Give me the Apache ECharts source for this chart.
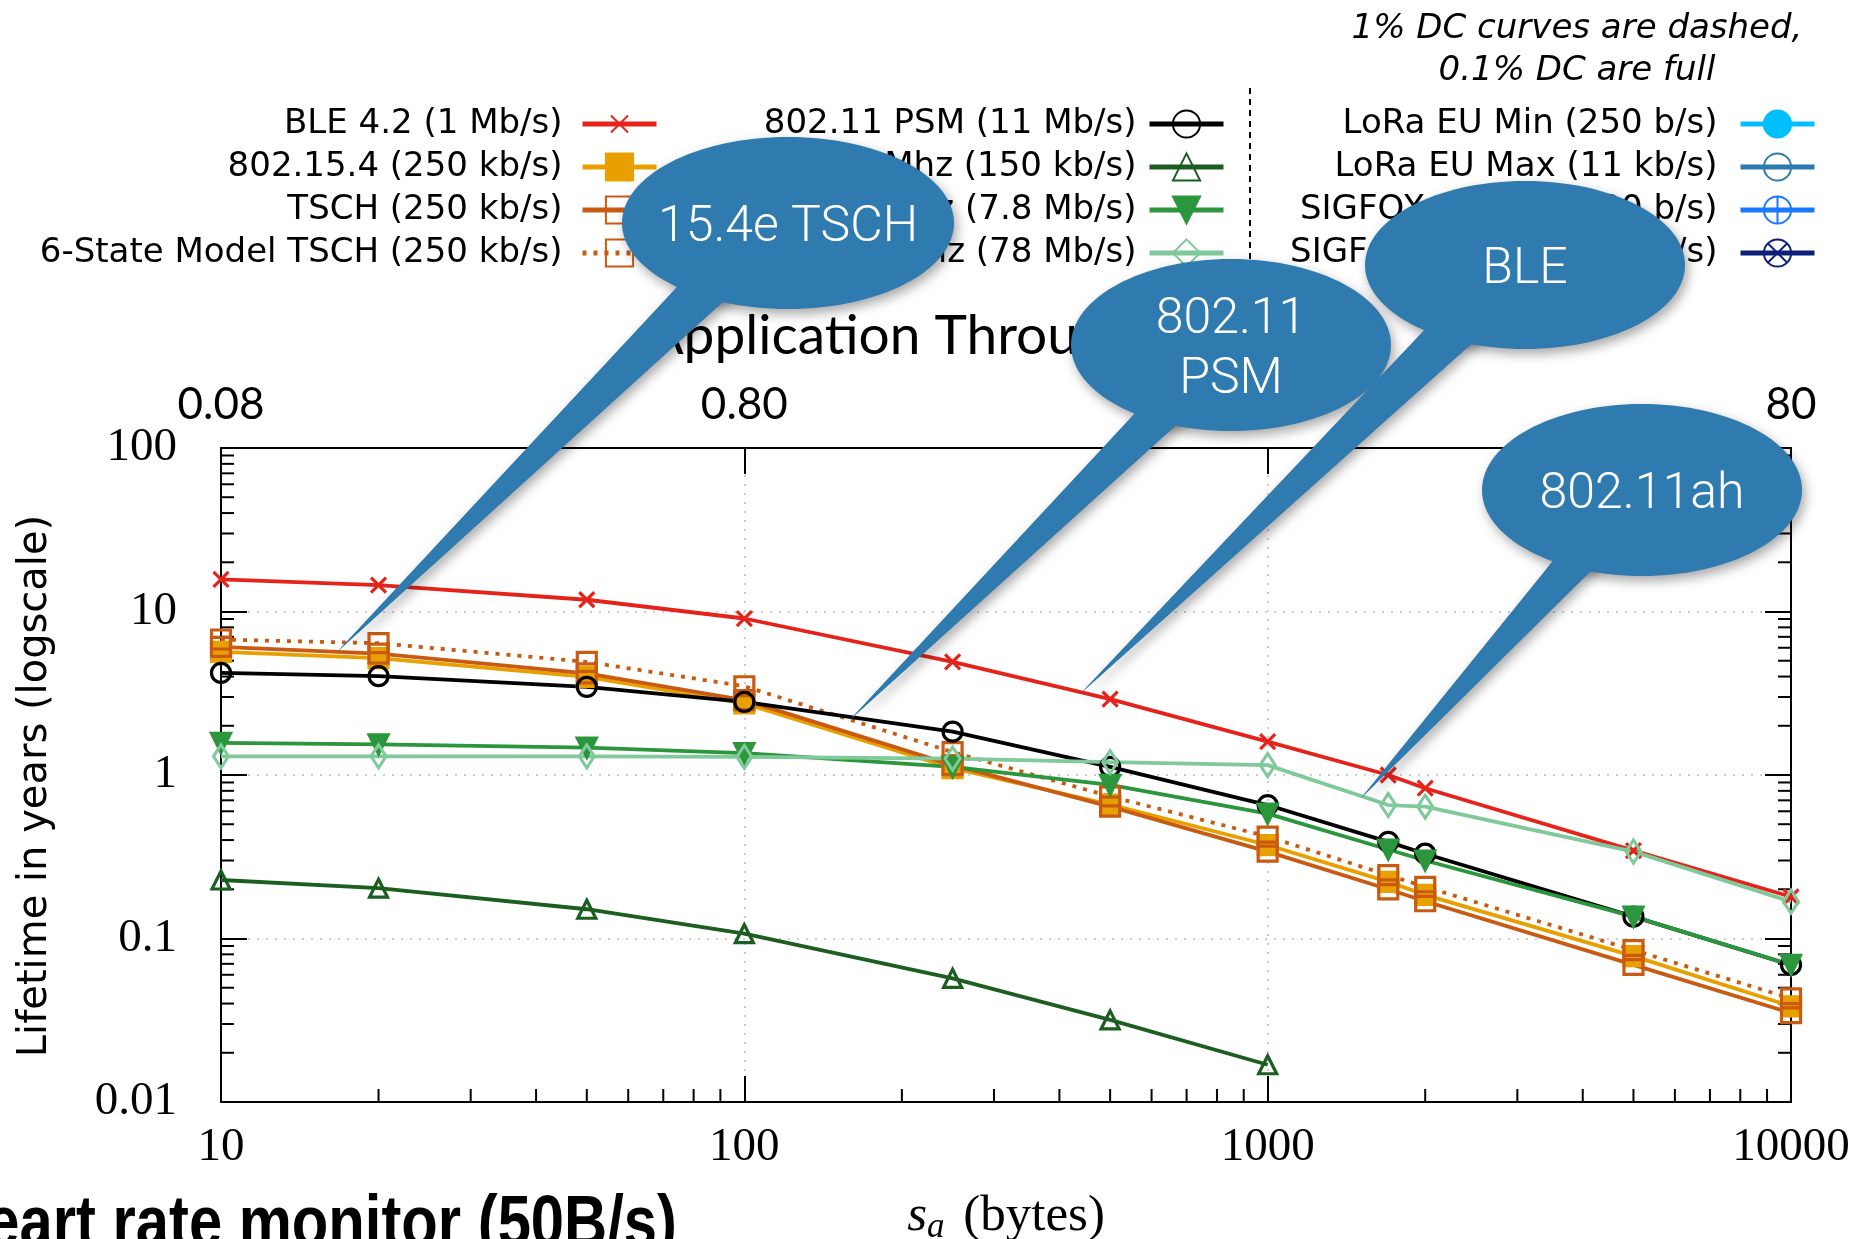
<!DOCTYPE html>
<html>
<head>
<meta charset="utf-8">
<title>Lifetime vs payload size</title>
<script src="https://cdn.jsdelivr.net/npm/echarts@6/dist/echarts.min.js"></script>
<style>
    html, body { margin: 0; padding: 0; background: #fff; }
    #main { width: 1872px; height: 1239px; }
</style>
</head>
<body>
<div id="main"></div>
<script>
    // payload size s_a (bytes)
    var payloadBytes = [10, 20, 50, 100, 250, 500, 1000, 1700, 2000, 5000, 10000];

    // lifetime in years, one list per technology
    var ble42      = [15.7, 14.5, 11.8, 9.06, 4.92, 2.91, 1.6, 1.0, 0.83, 0.345, 0.18];
    var ieee802154 = [5.67, 5.18, 3.98, 2.74, 1.10, 0.66, 0.373, 0.222, 0.185, 0.078, 0.0385];
    var tsch       = [6.08, 5.53, 4.18, 2.87, 1.15, 0.64, 0.34, 0.20, 0.169, 0.069, 0.035];
    var tsch6State = [6.74, 6.4, 4.92, 3.49, 1.38, 0.74, 0.42, 0.244, 0.207, 0.085, 0.043];
    var wifiPsm    = [4.21, 4.02, 3.46, 2.8, 1.84, 1.12, 0.655, 0.39, 0.33, 0.136, 0.0689];
    var ah150k     = [0.228, 0.203, 0.151, 0.107, 0.0571, 0.0318, 0.0169];
    var ah7800k    = [1.57, 1.54, 1.47, 1.36, 1.12, 0.87, 0.58, 0.35, 0.30, 0.136, 0.069];
    var ah78M      = [1.30, 1.30, 1.30, 1.29, 1.26, 1.20, 1.15, 0.655, 0.64, 0.34, 0.168];

    var xTickLabels = ['10', '100', '1000', '10000'];
    var topTickLabels = ['0.08', '0.80', '8', '80'];
    var yTickLabels = ['0.01', '0.1', '1', '10', '100'];

    // callout bubbles: tip given in data coordinates
    var callouts = [
        {text: '15.4e TSCH', cx: 788, cy: 223, rx: 166, ry: 86, base: [[693, 270], [758, 270]], tip: [16.7, 5.7]},
        {text: '802.11\nPSM', cx: 1231, cy: 345, rx: 160, ry: 86, base: [[1166, 380], [1226, 380]], tip: [159, 2.17]},
        {text: 'BLE', cx: 1525, cy: 265, rx: 160, ry: 84, base: [[1434, 320], [1498, 320]], tip: [440, 3.17]},
        {text: '802.11ah', cx: 1642, cy: 490, rx: 160, ry: 86, base: [[1570, 540], [1622, 540]], tip: [1508, 0.722]}
    ];

    var serif = "'Liberation Serif', 'DejaVu Serif', serif";
    var sans = "'DejaVu Sans', sans-serif";
    var lato = "'Lato', 'DejaVu Sans', sans-serif";

    var SYM_X = 'path://M0,0M3,3L13,13M13,3L3,13M16,16';
    var SYM_CIRCLE_PLUS = 'path://M0,10A10,10,0,1,1,20,10A10,10,0,1,1,0,10ZM10,0L10,20M0,10L20,10';
    var SYM_CIRCLE_X = 'path://M0,10A10,10,0,1,1,20,10A10,10,0,1,1,0,10ZM3,3L17,17M17,3L3,17';

    function pairs(ys) {
        return ys.map(function (v, i) { return [payloadBytes[i], v]; });
    }

    function lineSeries(name, ys, color, symbol, size, filled, dash, extra) {
        var s = {
            name: name,
            type: 'line',
            data: ys ? pairs(ys) : [],
            symbol: symbol,
            symbolSize: size,
            showSymbol: true,
            lineStyle: {color: color, width: 3.8, type: dash ? [4, 7] : 'solid'},
            itemStyle: {color: filled ? color : 'rgba(0,0,0,0)', borderColor: color, borderWidth: 3.2},
            emphasis: {disabled: true},
            animation: false
        };
        if (extra) {
            for (var k in extra) s[k] = extra[k];
        }
        return s;
    }

    // minor ticks on the log axes (2..9 of each decade)
    var minorTicks = [];
    [0.01, 0.1, 1, 10].forEach(function (d) {
        for (var k = 2; k <= 9; k++) minorTicks.push([10, k * d, 0]);
    });
    [10, 100, 1000].forEach(function (d) {
        for (var k = 2; k <= 9; k++) minorTicks.push([k * d, 0.01, 1]);
    });

    var col1 = ['BLE 4.2 (1 Mb/s)', '802.15.4 (250 kb/s)', 'TSCH (250 kb/s)', '6-State Model TSCH (250 kb/s)'];
    var col2 = ['802.11 PSM (11 Mb/s)', '11ah 1 Mhz (150 kb/s)', '11ah 2 Mhz (7.8 Mb/s)', '11ah 16 Mhz (78 Mb/s)'];
    var col3 = ['LoRa EU Min (250 b/s)', 'LoRa EU Max (11 kb/s)', 'SIGFOX EU Min (100 b/s)', 'SIGFOX EU Max (600 b/s)'];

    function legendCol(names, right, textGap) {
        return {
            data: names,
            orient: 'vertical',
            align: 'right',
            right: right,
            top: 107,
            padding: 0,
            itemWidth: 74,
            itemHeight: 34,
            itemGap: 9,
            selectedMode: false,
            lineStyle: {width: 5},
            textStyle: {fontFamily: sans, fontSize: 34, color: '#000', lineHeight: 34, padding: [0, textGap, 0, 0]}
        };
    }

    var axisBlack = {color: '#000', width: 2};
    var gridDots = {color: '#bdbdbd', width: 1.5, type: [2, 7]};

    var option = {
        animation: false,
        backgroundColor: '#fff',
        grid: {left: 221, right: 81, top: 448, bottom: 137, outerBoundsMode: 'none', containLabel: false},
        legend: [legendCol(col1, 1213, 15), legendCol(col2, 646, 8), legendCol(col3, 55, 18)],
        xAxis: [{
            type: 'log', logBase: 10, min: 10, max: 10000, position: 'bottom',
            axisLine: {show: true, onZero: false, lineStyle: axisBlack},
            axisTick: {show: true, inside: true, length: 26, lineStyle: axisBlack},
            axisLabel: {
                fontFamily: serif, fontSize: 47, color: '#000', margin: 22,
                formatter: function (v) { return xTickLabels[Math.round(Math.log10(v)) - 1]; }
            },
            splitLine: {show: true, lineStyle: gridDots},
            name: '{s|s}{a|a} (bytes)',
            nameLocation: 'middle',
            nameGap: 86,
            nameTextStyle: {
                fontFamily: serif, fontSize: 51, color: '#000',
                rich: {
                    s: {fontFamily: serif, fontSize: 51, fontStyle: 'italic', color: '#000'},
                    a: {fontFamily: serif, fontSize: 35, fontStyle: 'italic', color: '#000', padding: [22, 6, 0, 0]}
                }
            }
        }, {
            type: 'log', logBase: 10, min: 10, max: 10000, position: 'top',
            axisLine: {show: true, onZero: false, lineStyle: axisBlack},
            axisTick: {show: true, inside: true, length: 26, lineStyle: axisBlack},
            axisLabel: {
                fontFamily: lato, fontSize: 44, color: '#000', margin: 21,
                formatter: function (v) { return topTickLabels[Math.round(Math.log10(v)) - 1]; }
            },
            splitLine: {show: false},
            name: 'Application Throughput (kb/s)',
            nameLocation: 'middle',
            nameGap: 84,
            nameTextStyle: {fontFamily: lato, fontSize: 55, color: '#000'}
        }],
        yAxis: [{
            type: 'log', logBase: 10, min: 0.01, max: 100, position: 'left',
            axisLine: {show: true, onZero: false, lineStyle: axisBlack},
            axisTick: {show: true, inside: true, length: 26, lineStyle: axisBlack},
            axisLabel: {
                fontFamily: serif, fontSize: 47, color: '#000', margin: 44,
                formatter: function (v) { return yTickLabels[Math.round(Math.log10(v)) + 2]; }
            },
            splitLine: {show: true, lineStyle: gridDots},
            name: 'Lifetime in years (logscale)',
            nameLocation: 'middle',
            nameRotate: 90,
            nameGap: 165,
            nameTextStyle: {fontFamily: sans, fontSize: 40, color: '#000', padding: [0, 22, 0, 0]}
        }, {
            type: 'log', logBase: 10, min: 0.01, max: 100, position: 'right',
            axisLine: {show: true, onZero: false, lineStyle: axisBlack},
            axisTick: {show: true, inside: true, length: 26, lineStyle: axisBlack},
            axisLabel: {show: false},
            splitLine: {show: false}
        }],
        series: [
            {
                name: 'minor ticks',
                type: 'custom',
                data: minorTicks,
                silent: true,
                animation: false,
                z: 1,
                renderItem: function (params, api) {
                    var kind = api.value(2);
                    var st = {stroke: '#000', lineWidth: 2};
                    var p = api.coord([api.value(0), api.value(1)]);
                    if (kind === 0) {
                        var q = api.coord([10000, api.value(1)]);
                        return {type: 'group', children: [
                            {type: 'line', shape: {x1: p[0], y1: p[1], x2: p[0] + 13, y2: p[1]}, style: st},
                            {type: 'line', shape: {x1: q[0], y1: q[1], x2: q[0] - 13, y2: q[1]}, style: st}
                        ]};
                    }
                    return {type: 'line', shape: {x1: p[0], y1: p[1], x2: p[0], y2: p[1] - 13}, style: st};
                }
            },
            lineSeries(col1[0], ble42, '#e5231b', SYM_X, 24, false, false),
            lineSeries(col1[1], ieee802154, '#e8a000', 'rect', 19, true, false),
            lineSeries(col1[2], tsch, '#c95a12', 'rect', 19, false, false),
            lineSeries(col1[3], tsch6State, '#c95a12', 'rect', 19, false, true),
            lineSeries(col2[0], wifiPsm, '#000000', 'circle', 19, false, false),
            lineSeries(col2[1], ah150k, '#1b5e20', 'triangle', 18, false, false),
            lineSeries(col2[2], ah7800k, '#2b963c', 'triangle', 19, true, false, {symbolRotate: 180}),
            lineSeries(col2[3], ah78M, '#80c99a', 'diamond', [15, 23], false, false),
            lineSeries(col3[0], null, '#00bfff', 'circle', 18, true, false),
            lineSeries(col3[1], null, '#2b7bb0', 'circle', 18, false, false),
            lineSeries(col3[2], null, '#1a78ff', SYM_CIRCLE_PLUS, 18, false, false),
            lineSeries(col3[3], null, '#0b1f78', SYM_CIRCLE_X, 18, false, false)
        ]
    };

    var chart = echarts.init(document.getElementById('main'));
    chart.setOption(option);

    // annotations: legend separator, note, bubbles, slide caption
    var bubbleColor = '#2f7aae';
    var graphics = [
        {
            type: 'line', z: 50,
            shape: {x1: 1250, y1: 88, x2: 1250, y2: 275},
            style: {stroke: '#000', lineWidth: 2, lineDash: [6, 5]}
        },
        {
            type: 'text', z: 50,
            style: {
                text: '1% DC curves are dashed,\n0.1% DC are full',
                x: 1577, y: 50, fill: '#000',
                fontFamily: sans, fontSize: 34, fontStyle: 'italic', lineHeight: 42,
                align: 'center', verticalAlign: 'middle'
            }
        },
        {
            type: 'text', z: 50,
            x: 677, y: 1190, scaleX: 0.83,
            style: {
                text: 'Heart rate monitor (50B/s)',
                x: 0, y: 0, fill: '#000',
                fontFamily: "'Liberation Sans', sans-serif",
                fontSize: 72, fontWeight: 'bold',
                align: 'right', verticalAlign: 'top'
            }
        }
    ];

    var shadow = {shadowBlur: 12, shadowOffsetX: 3, shadowOffsetY: 5, shadowColor: 'rgba(0,0,0,0.35)'};
    callouts.forEach(function (c) {
        var tip = chart.convertToPixel({xAxisIndex: 0, yAxisIndex: 0}, c.tip);
        graphics.push({
            type: 'polygon', z: 100,
            shape: {points: [c.base[0], c.base[1], tip]},
            style: Object.assign({fill: bubbleColor}, shadow)
        });
        graphics.push({
            type: 'ellipse', z: 101,
            shape: {cx: c.cx, cy: c.cy, rx: c.rx, ry: c.ry},
            style: Object.assign({fill: bubbleColor}, shadow)
        });
        graphics.push({
            type: 'polygon', z: 102,
            shape: {points: [c.base[0], c.base[1], tip]},
            style: {fill: bubbleColor}
        });
        graphics.push({
            type: 'text', z: 103,
            style: {
                text: c.text, x: c.cx, y: c.cy + 5, fill: '#fff',
                fontFamily: "'Roboto', 'Open Sans', sans-serif", fontSize: 50, fontWeight: 300,
                lineHeight: 60, align: 'center', verticalAlign: 'middle'
            }
        });
    });

    chart.setOption({graphic: graphics});
</script>
</body>
</html>
